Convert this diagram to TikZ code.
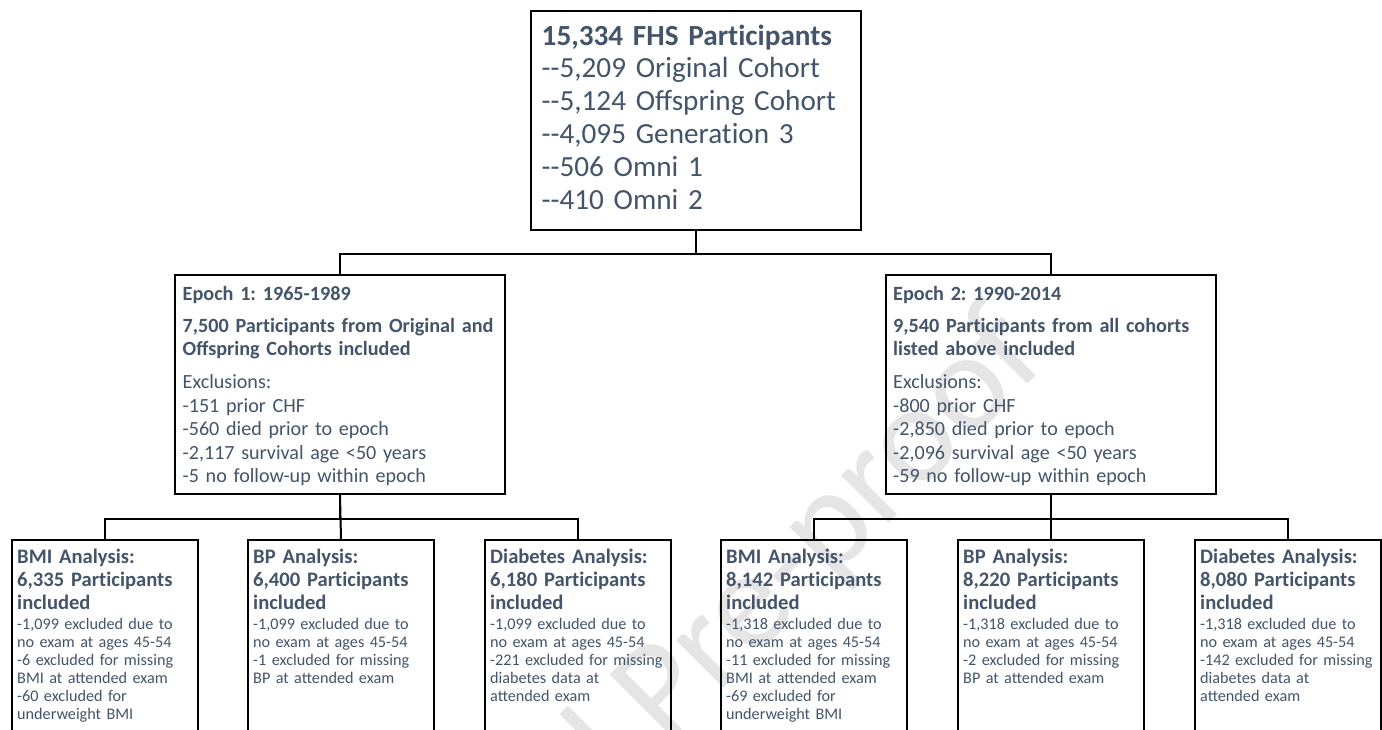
\documentclass[tikz,border=0pt]{standalone}
\usepackage{fontspec}
\setmainfont{Carlito}
\frenchspacing
\definecolor{txt}{HTML}{44546A}
\definecolor{wmgray}{HTML}{E5E5E5}
\newcommand\dd{-\kern0pt-}
\newcommand\tI{t\kern0pt i}
\newcommand\Parts{Par\tI cipants}
\newcommand\topfs{\fontsize{29.2}{32.8}\selectfont}
\newcommand\epfs{\fontsize{20.1}{23.5}\selectfont}
\newcommand\epb[1]{{\fontsize{20.2}{23.5}\selectfont\bfseries #1}}
\newcommand\ttlfs{\fontsize{20.6}{23.2}\selectfont\bfseries}
\newcommand\bodyfs{\fontsize{16.2}{18}\selectfont}
\begin{document}
\begin{tikzpicture}[x=1pt,y=-1pt,
  box/.style={draw=black, line width=2pt, inner sep=0pt, anchor=north west},
  topbox/.style={box, minimum width=330pt, minimum height=219pt},
  epbox/.style={box, minimum width=330pt, minimum height=219pt},
  anbox/.style={box, minimum width=186pt, minimum height=210pt},
  conn/.style={draw=black, line width=2pt},
  lbl/.style={anchor=base west, inner sep=0pt, text=txt, align=left, text width=320pt},
  wm/.style={text=wmgray, inner sep=0pt, font=\fontsize{140}{140}\selectfont},
]
\useasboundingbox (0,0) rectangle (1382,729);
\clip (0,0) rectangle (1382,729);
\fill[white] (0,0) rectangle (1382,729);

% watermark
\node[wm, anchor=base east, rotate=45] (wmark) at (1050,362) {Journal Pre-proof};

% top box
\node[topbox] (top) at (530,10) {};
\node[lbl, font=\topfs] (toptxt) at (541.5,45) {\textbf{15,334 FHS \Parts}\\
\dd5,209 Original Cohort\\
\dd5,124 Offspring Cohort\\
\dd4,095 Genera\tI on 3\\
\dd506 Omni 1\\
\dd410 Omni 2};

% epoch boxes
\node[epbox] (ep1) at (174,274) {};
\node[lbl, font=\epfs] (ep1txt) at (182.5,300) {\epb{Epoch 1: 1965-1989}\\[8.5pt]
\epb{7,500 \Parts{} from Original and}\\
\epb{Offspring Cohorts included}\\[9.5pt]
Exclusions:\\
-151 prior CHF\\
-560 died prior to epoch\\
-2,117 survival age <50 years\\
-5 no follow-up within epoch};

\node[epbox] (ep2) at (885,274) {};
\node[lbl, font=\epfs] (ep2txt) at (893,300) {\epb{Epoch 2: 1990-2014}\\[8.5pt]
\epb{9,540 \Parts{} from all cohorts}\\
\epb{listed above included}\\[9.5pt]
Exclusions:\\
-800 prior CHF\\
-2,850 died prior to epoch\\
-2,096 survival age <50 years\\
-59 no follow-up within epoch};

% analysis boxes
\node[anbox] (b1) at (11,539) {};
\node[anbox] (b2) at (247,539) {};
\node[anbox] (b3) at (484,539) {};
\node[anbox] (b4) at (720,539) {};
\node[anbox] (b5) at (957,539) {};
\node[anbox] (b6) at (1194,539) {};

\node[lbl, font=\ttlfs] (t1) at (17,563) {BMI Analysis:\\6,335 \Parts\\included};
\node[lbl, font=\bodyfs] (d1) at (17,629.5) {-1,099 excluded due to\\no exam at ages 45-54\\-6 excluded for missing\\BMI at attended exam\\-60 excluded for\\underweight BMI};

\node[lbl, font=\ttlfs] (t2) at (253,563) {BP Analysis:\\6,400 \Parts\\included};
\node[lbl, font=\bodyfs] (d2) at (253,629.5) {-1,099 excluded due to\\no exam at ages 45-54\\-1 excluded for missing\\BP at attended exam};

\node[lbl, font=\ttlfs] (t3) at (490,563) {Diabetes Analysis:\\6,180 \Parts\\included};
\node[lbl, font=\bodyfs] (d3) at (490,629.5) {-1,099 excluded due to\\no exam at ages 45-54\\-221 excluded for missing\\diabetes data at\\attended exam};

\node[lbl, font=\ttlfs] (t4) at (726,563) {BMI Analysis:\\8,142 \Parts\\included};
\node[lbl, font=\bodyfs] (d4) at (726,629.5) {-1,318 excluded due to\\no exam at ages 45-54\\-11 excluded for missing\\BMI at attended exam\\-69 excluded for\\underweight BMI};

\node[lbl, font=\ttlfs] (t5) at (963,563) {BP Analysis:\\8,220 \Parts\\included};
\node[lbl, font=\bodyfs] (d5) at (963,629.5) {-1,318 excluded due to\\no exam at ages 45-54\\-2 excluded for missing\\BP at attended exam};

\node[lbl, font=\ttlfs] (t6) at (1200,563) {Diabetes Analysis:\\8,080 \Parts\\included};
\node[lbl, font=\bodyfs] (d6) at (1200,629.5) {-1,318 excluded due to\\no exam at ages 45-54\\-142 excluded for missing\\diabetes data at\\attended exam};

% connectors
\draw[conn] (top.south) -- ++(0,23) -| (ep1.north);
\draw[conn] (top.south) -- ++(0,23) -| (ep2.north);
\draw[conn] (ep1.south) -- ++(0,24) -| (b1.north);
\draw[conn] (ep1.south) -- (b2.north);
\draw[conn] (ep1.south) -- ++(0,24) -| (b3.north);
\draw[conn] (ep2.south) -- ++(0,24) -| (b4.north);
\draw[conn] (ep2.south) -- (b5.north);
\draw[conn] (ep2.south) -- ++(0,24) -| (b6.north);
\end{tikzpicture}
\end{document}
